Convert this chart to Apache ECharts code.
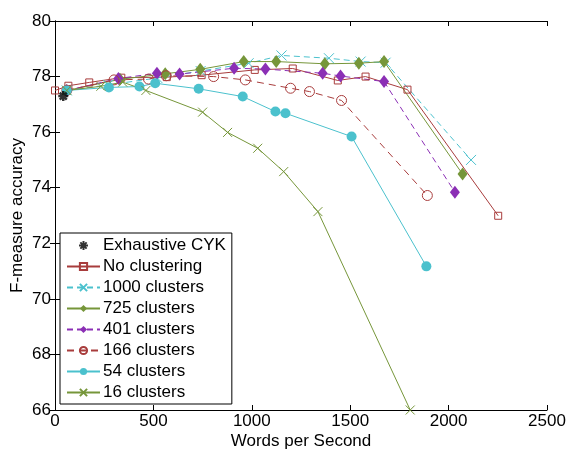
<!DOCTYPE html>
<html>
<head>
<meta charset="utf-8">
<script src="https://cdn.jsdelivr.net/npm/echarts@6/dist/echarts.min.js"></script>
<style>html,body{margin:0;padding:0;background:#fff}#c{width:569px;height:451px}</style>
</head>
<body>
<div id="c"></div>
<script>
var xTicks = [0, 500, 1000, 1500, 2000, 2500];
var yTicks = [66, 68, 70, 72, 74, 76, 78, 80];

var exhaustiveCYK = [[42, 77.3]];
var noClustering = [[0,77.5],[68,77.67],[174,77.79],[337,77.96],[568,77.98],[745,78.05],[1015,78.24],[1208,78.29],[1437,77.86],[1578,78.0],[1791,77.53],[2252,72.99]];
var c1000 = [[60,77.5],[270,77.7],[520,77.95],[740,78.2],[984,78.48],[1151,78.76],[1392,78.66],[1553,78.54],[1680,78.5],[2114,75.0]];
var c725 = [[60,77.5],[330,77.9],[560,78.1],[738,78.26],[959,78.54],[1124,78.54],[1371,78.46],[1544,78.48],[1672,78.54],[2071,74.49]];
var c401 = [[60,77.5],[322,77.93],[518,78.12],[633,78.09],[910,78.3],[1069,78.27],[1360,78.12],[1451,78.02],[1672,77.82],[2032,73.84]];
var c166 = [[60,77.5],[300,77.88],[475,77.91],[565,78.03],[806,78.0],[967,77.88],[1197,77.58],[1293,77.46],[1456,77.14],[1892,73.72]];
var c54 = [[60,77.5],[274,77.61],[429,77.64],[509,77.76],[730,77.56],[954,77.28],[1120,76.74],[1171,76.68],[1507,75.84],[1887,71.17]];
var c16 = [[60,77.5],[233,77.65],[344,77.8],[462,77.5],[750,76.72],[877,75.99],[1030,75.42],[1162,74.58],[1336,73.14],[1805,66.0]];

var RED = '#a83c3c', CYAN = '#4bc1cd', GREEN = '#76963a', PURPLE = '#8b2fb5';
var FONT = 'Liberation Sans';
var XSYM = 'path://M0,0L10,10M10,0L0,10';
var STAR = 'path://M5,0L5,10M0,5L10,5M1.5,1.5L8.5,8.5M8.5,1.5L1.5,8.5';

function lineSeries(name, data, color, symbol, size, hollow, dashed) {
  return {
    name: name, type: 'line', data: data, symbol: symbol, symbolSize: size,
    showAllSymbol: true, animation: false, z: 3,
    lineStyle: { color: color, width: 1, type: dashed ? dashed : 'solid' },
    itemStyle: hollow ? { color: 'rgba(255,255,255,0)', borderColor: color, borderWidth: 1 }
                      : { color: color, borderColor: color, borderWidth: 0 }
  };
}

var chart = echarts.init(document.getElementById('c'), null, { renderer: 'canvas' });
var axisCommon = {
  axisLine: { show: true, lineStyle: { color: '#000', width: 1 } },
  axisTick: { show: true, inside: true, length: 5, lineStyle: { color: '#000' } },
  splitLine: { show: false }
};
chart.setOption({
  animation: false,
  textStyle: { fontFamily: FONT },
  grid: { left: 55, right: 22, top: 21, bottom: 41, containLabel: false, outerBoundsMode: 'none' },
  xAxis: [
    Object.assign({ type: 'value', min: 0, max: 2500, interval: 500, position: 'bottom',
      name: 'Words per Second', nameLocation: 'middle', nameGap: 23, nameMoveOverlap: false,
      nameTextStyle: { fontSize: 17, color: '#000', fontFamily: FONT },
      axisLabel: { fontSize: 17, color: '#000', margin: 3, fontFamily: FONT,
        formatter: function (v) { return xTicks.indexOf(v) >= 0 ? String(v) : ''; } } }, axisCommon),
    Object.assign({ type: 'value', min: 0, max: 2500, interval: 500, position: 'top',
      axisLabel: { show: false } }, axisCommon)
  ],
  yAxis: [
    Object.assign({ type: 'value', min: 66, max: 80, interval: 2, position: 'left',
      name: 'F-measure accuracy', nameLocation: 'middle', nameGap: 29, nameMoveOverlap: false,
      nameTextStyle: { fontSize: 17, color: '#000', fontFamily: FONT },
      axisLabel: { fontSize: 17, color: '#000', margin: 4, fontFamily: FONT,
        formatter: function (v) { return yTicks.indexOf(v) >= 0 ? String(v) : ''; } } }, axisCommon),
    Object.assign({ type: 'value', min: 66, max: 80, interval: 2, position: 'right',
      axisLabel: { show: false } }, axisCommon)
  ],
  legend: {
    orient: 'vertical', left: 60, top: 233, width: 170,
    padding: [4, 6, 3, 6], itemGap: 4, itemWidth: 33, itemHeight: 9,
    backgroundColor: '#fff', borderColor: '#000', borderWidth: 1,
    textStyle: { fontSize: 17, color: '#000', fontFamily: FONT, padding: [0, 30, 0, -2] },
    data: ['Exhaustive CYK', 'No clustering', '1000 clusters', '725 clusters', '401 clusters', '166 clusters', '54 clusters', '16 clusters']
  },
  series: [
    lineSeries('No clustering', noClustering, RED, 'rect', 7, true, null),
    lineSeries('1000 clusters', c1000, CYAN, XSYM, 10, true, [6, 4]),
    lineSeries('725 clusters', c725, GREEN, 'diamond', [10, 13], false, null),
    lineSeries('401 clusters', c401, PURPLE, 'diamond', [10, 13], false, [6, 4]),
    lineSeries('166 clusters', c166, RED, 'circle', 10, true, [7, 5]),
    lineSeries('54 clusters', c54, CYAN, 'circle', 10, false, null),
    lineSeries('16 clusters', c16, GREEN, XSYM, 9, true, null),
    { name: 'Exhaustive CYK', type: 'scatter', data: exhaustiveCYK, symbol: STAR, symbolSize: 10, z: 5,
      itemStyle: { color: 'rgba(0,0,0,0)', borderColor: '#000', borderWidth: 2.5 } }
  ]
});
</script>
</body>
</html>
